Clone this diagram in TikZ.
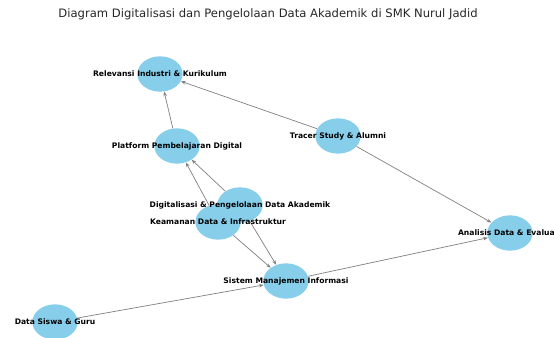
\documentclass[tikz,border=0pt]{standalone}
\usepackage{fontspec}
\setmainfont{DejaVu Sans}
\usetikzlibrary{shapes.geometric,arrows.meta}
\definecolor{skyblue}{HTML}{87CEEB}

\tikzset{
	ent/.style={ellipse, fill=skyblue, minimum width=1.36cm, minimum height=1.06cm, inner sep=0pt},
	txt/.style={font=\bfseries\fontsize{6.5}{7}\selectfont, inner sep=0pt},
	link/.style={draw=gray, line width=0.6pt, -{Stealth[length=4pt,width=3pt]}}
}

\begin{document}
\begin{tikzpicture}[x=0.03cm,y=-0.03cm]

	\useasboundingbox (0,0) rectangle (554,338);
	\clip (0,0) rectangle (554,338); % the right label is cut off in the original
	
	\node[font=\fontsize{9.9}{11}\selectfont, text=black!85] (title) at (268,14) {Diagram Digitalisasi dan Pengelolaan Data Akademik di SMK Nurul Jadid};
	
	% all positions are pixels of the original, y pointing down
	\node[ent] (rel) at (160,74) {};
	\node[ent] (plat) at (177,146) {};
	\node[ent] (trac) at (338,136) {};
	\node[ent] (digi) at (240,205) {};
	\node[ent] (keam) at (218,222) {};
	\node[ent] (sis) at (286,281) {};
	\node[ent] (dsg) at (55,322) {};
	\node[ent] (ana) at (510,233) {};
	
	\draw[link] (plat) -- (rel);
	\draw[link] (trac) -- (rel);
	\draw[link] (trac) -- (ana);
	\draw[link] (digi) -- (plat);
	\draw[link] (keam) -- (plat);
	\draw[link] (digi) -- (sis);
	\draw[link] (keam) -- (sis);
	\draw[link] (sis) -- (ana);
	\draw[link] (dsg) -- (sis);
	
	\node[txt] (rel-t) at (rel) {Relevansi Industri \& Kurikulum};
	\node[txt] (plat-t) at (plat) {Platform Pembelajaran Digital};
	\node[txt] (trac-t) at (trac) {Tracer Study \& Alumni};
	\node[txt] (digi-t) at (digi) {Digitalisasi \& Pengelolaan Data Akademik};
	\node[txt] (keam-t) at (keam) {Keamanan Data \& Infrastruktur};
	\node[txt] (sis-t) at (sis) {Sistem Manajemen Informasi};
	\node[txt] (dsg-t) at (dsg) {Data Siswa \& Guru};
	\node[txt] (ana-t) at (ana) {Analisis Data \& Evaluasi};

\end{tikzpicture}
\end{document}
